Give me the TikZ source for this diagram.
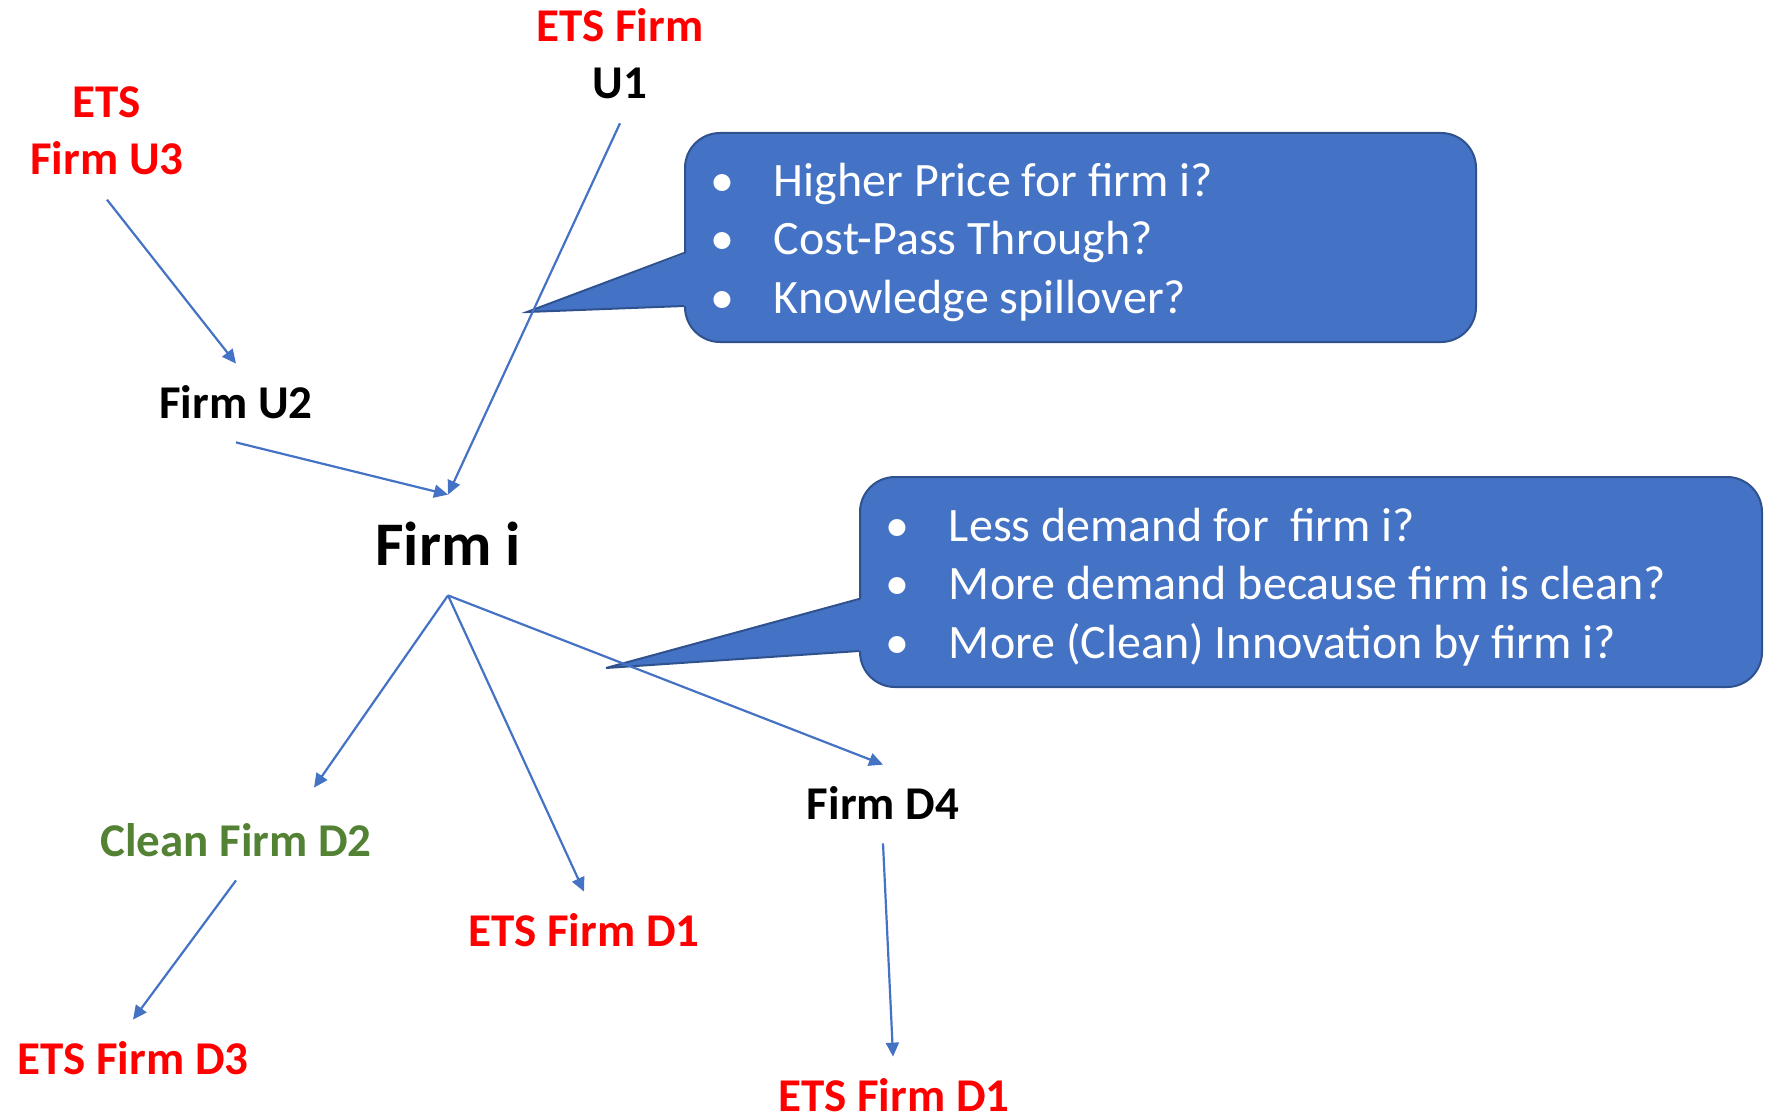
\documentclass[tikz,border=0pt]{standalone}
\usepackage{fontspec}
\setmainfont{Carlito}
\usepackage{tikz}
\usetikzlibrary{arrows.meta,calc}

\definecolor{etsred}{RGB}{255,0,0}
\definecolor{cleangreen}{RGB}{84,130,53}
\definecolor{linkblue}{RGB}{68,114,196}
\definecolor{boxblue}{RGB}{68,114,196}
\definecolor{boxline}{RGB}{47,82,143}

\newcommand{\bulletline}{\spaceskip=0.226em\relax\rule{0pt}{21.5pt}\hspace*{18.5pt}\makebox[0pt]{\textbullet}\hspace*{26pt}}
\newcommand{\bulletnext}{\hspace*{18.5pt}\makebox[0pt]{\textbullet}\hspace*{26pt}}

\begin{document}
\begin{tikzpicture}[x=0.5pt,y=0.5pt,yscale=-1,xscale=1,
  firm/.style={inner xsep=2pt,inner ysep=12pt,font=\fontsize{23.5}{28.7}\selectfont\bfseries,text height=15pt,text depth=0pt},
  firmtwo/.style={inner xsep=2pt,inner ysep=12pt,font=\fontsize{23.5}{28.7}\selectfont\bfseries,align=center},
  link/.style={draw=linkblue,line width=1.1pt,-{Triangle[length=7pt,width=6.5pt]}},
  callout/.style={fill=boxblue,draw=boxline,line width=1pt,rounded corners=17.5pt,text=white,inner sep=0pt,font=\fontsize{24}{29.25}\selectfont,align=left}
]
\useasboundingbox (0,0) rectangle (1765,1118);

% Text Node
\node[firmtwo] (u1) at (620,53.5) {\textcolor{etsred}{ETS Firm}\\U1};
% Text Node
\node[firmtwo,text=etsred] (u3) at (107,131) {ETS\\Firm U3};
% Text Node
\node[firm] (u2) at (236,403) {Firm U2};
% Text Node
\node[firm,font=\fontsize{31}{38}\selectfont\bfseries,text height=20pt,inner ysep=15pt] (fi) at (448,545) {Firm i};
% Text Node
\node[firm,text=cleangreen] (d2) at (236,841) {Clean Firm D2};
% Text Node
\node[firm,text=etsred] (d1) at (584,931) {ETS Firm D1};
% Text Node
\node[firm] (d4) at (883,804) {Firm D4};
% Text Node
\node[firm,text=etsred] (d3) at (133,1059) {ETS Firm D3};
% Text Node
\node[firm,text=etsred,inner ysep=2pt] (d1b) at (894,1096) {ETS Firm D1};

%Shape: Callout upstream
\node[callout,minimum height=104.5pt,text width=395.5pt] (q1) at (1080.5,237.5) {%
\bulletline Higher Price for firm i?\\
\bulletnext Cost-Pass Through?\\
\bulletnext Knowledge spillover?};
\coordinate (q1tip) at (527,312);
\fill[boxblue] ($(q1.north west)+(3,121)$) -- (q1tip) -- ($(q1.north west)+(3,174)$) -- cycle;
\draw[boxline,line width=1pt] ($(q1.north west)+(0,121)$) -- (q1tip) -- ($(q1.north west)+(0,174)$);

%Shape: Callout downstream
\node[callout,minimum height=105pt,text width=451pt] (q2) at (1311,582) {%
\bulletline Less demand for\ \ firm i?\\
\bulletnext More demand because firm is clean?\\
\bulletnext More (Clean) Innovation by firm i?};
\coordinate (q2tip) at (606,668);
\fill[boxblue] ($(q2.north west)+(3,123)$) -- (q2tip) -- ($(q2.north west)+(3,175)$) -- cycle;
\draw[boxline,line width=1pt] ($(q2.north west)+(0,123)$) -- (q2tip) -- ($(q2.north west)+(0,175)$);

%Straight Lines
\draw[link] (u3.south) -- (u2.north);
\draw[link] (u1.south) -- (fi.north);
\draw[link] (u2.south) -- (fi.north);
%Straight Lines
\coordinate (d2in) at ($(d2.north)+(78,-14)$);
\draw[link] (fi.south) -- (d2in);
\draw[link] (fi.south) -- (d1.north);
\draw[link] (fi.south) -- (d4.north);
\draw[link] (d2.south) -- (d3.north);
\draw[link,shorten >=10pt] (d4.south) -- (d1b.north);

\end{tikzpicture}
\end{document}
